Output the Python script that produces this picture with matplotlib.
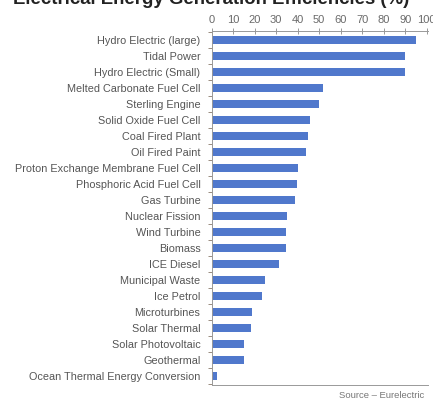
import matplotlib
matplotlib.use("Agg")
import matplotlib.pyplot as plt
import numpy as np

plt.rcParams['font.family'] = ['Liberation Sans', 'DejaVu Sans']

categories = [
    "Hydro Electric (large)", "Tidal Power", "Hydro Electric (Small)",
    "Melted Carbonate Fuel Cell", "Sterling Engine", "Solid Oxide Fuel Cell",
    "Coal Fired Plant", "Oil Fired Paint", "Proton Exchange Membrane Fuel Cell",
    "Phosphoric Acid Fuel Cell", "Gas Turbine", "Nuclear Fission",
    "Wind Turbine", "Biomass", "ICE Diesel", "Municipal Waste", "Ice Petrol",
    "Microturbines", "Solar Thermal", "Solar Photovoltaic", "Geothermal",
    "Ocean Thermal Energy Conversion",
]
values = [95, 90, 90, 52, 50, 46, 45, 44, 40, 39.5, 39, 35, 34.5, 34.5,
          31.5, 25, 23.5, 19, 18.5, 15, 15, 2.5]
xticks = [0, 10, 20, 30, 40, 50, 60, 70, 80, 90, 100]

title = "Electrical Energy Generation Efficiencies (%)"
source = "Source \u2013 Eurelectric"

fig = plt.figure(figsize=(4.33, 4.01), dpi=100)
W, H = 433, 401
left, right, top, bottom = 211.5, 428, 31, 385
ax = fig.add_axes([left / W, 1 - bottom / H, (right - left) / W, (bottom - top) / H])

y = np.arange(len(categories))
ax.barh(y, values, height=0.5, color="#5078cc", zorder=2)
ax.set_ylim(len(categories) - 0.45, -0.55)
ax.set_xlim(0, 100.6)

ax.xaxis.tick_top()
ax.set_xticks(xticks)
ax.set_xticklabels([str(t) for t in xticks], fontsize=8, color="#6a6a6a")
ax.tick_params(axis="x", direction="inout", length=4, width=0.6, color="#888888", pad=2)

ax.set_yticks(y)
ax.set_yticklabels(categories, fontsize=7.8, color="#555555")
ax.tick_params(axis="y", length=0, pad=8)
ax.set_yticks(np.arange(len(categories) + 1) - 0.5, minor=True)
ax.tick_params(axis="y", which="minor", direction="out", length=3, width=0.6, color="#8a7a6a")

ax.spines["right"].set_visible(False)
for s in ["top", "bottom", "left"]:
    ax.spines[s].set_color("#999999")
    ax.spines[s].set_linewidth(0.7)

fig.text(13 / W, 1 - 4 / H, title, fontsize=13.4, fontweight="bold", color="#222222",
         ha="left", va="baseline")
fig.text(424 / W, 1 - 398 / H, source, fontsize=6.8, color="#777777", ha="right", va="baseline")

fig.savefig("out.png", dpi=100)
